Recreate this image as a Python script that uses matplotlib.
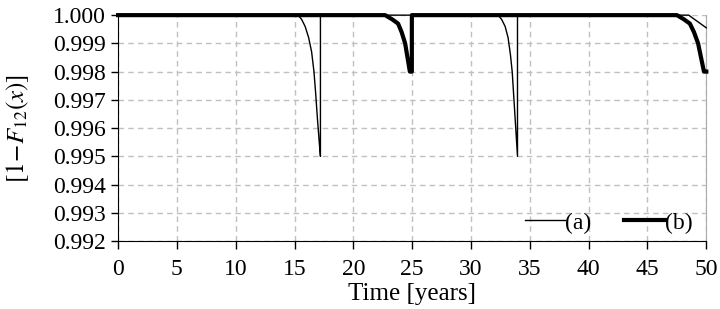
import matplotlib.pyplot as plt

plt.rcParams['font.family'] = ['Liberation Serif', 'DejaVu Serif']
plt.rcParams['mathtext.fontset'] = 'stix'

# series (a): thin line, dips at ~17 and ~34 years, starting again near 50
t_a = [0, 15.3, 15.6, 15.9, 16.2, 16.45, 16.65, 16.8, 16.95, 17.1, 17.2, 17.2,
       32.3, 32.6, 32.9, 33.15, 33.35, 33.5, 33.65, 33.8, 33.95, 33.95,
       48.5, 49.0, 49.5, 50.0]
r_a = [1.0, 1.0, 0.99985, 0.9996, 0.9992, 0.9987, 0.998, 0.9972, 0.9963, 0.9955, 0.995, 1.0,
       1.0, 0.99985, 0.9996, 0.9992, 0.9986, 0.998, 0.997, 0.996, 0.995, 1.0,
       1.0, 0.99985, 0.9997, 0.99955]

# series (b): thick line, dips at 25 and 50 years
t_b = [0, 22.7, 23.3, 23.8, 24.1, 24.4, 24.6, 24.8, 24.97, 24.97,
       47.5, 48.1, 48.6, 48.95, 49.3, 49.55, 49.8, 50.0]
r_b = [1.0, 1.0, 0.99985, 0.9997, 0.9994, 0.999, 0.9985, 0.998, 0.998, 1.0,
       1.0, 0.99985, 0.9997, 0.9994, 0.999, 0.9985, 0.998, 0.998]

x_ticks = list(range(0, 51, 5))
y_ticks = [0.992, 0.993, 0.994, 0.995, 0.996, 0.997, 0.998, 0.999, 1.000]

fig = plt.figure(figsize=(7.2, 3.09), dpi=100)
ax = fig.add_axes([0.164, 0.22, 0.817, 0.731])

ax.plot(t_a, r_a, color='black', linewidth=1.0, label='(a)', clip_on=False, zorder=3)
ax.plot(t_b, r_b, color='black', linewidth=3.0, label='(b)', clip_on=False, zorder=3)

ax.set_xlim(0, 50)
ax.set_ylim(0.992, 1.000)
ax.set_xticks(x_ticks)
ax.set_yticks(y_ticks)
ax.set_yticklabels([f'{v:.3f}' for v in y_ticks])
ax.tick_params(labelsize=17, direction='out', length=5, width=1, colors='black')
ax.tick_params(axis='x', length=6, pad=7)

ax.grid(True, color='#c0c0c0', linestyle=(0, (4, 3)), linewidth=1)
ax.spines['top'].set_visible(False)
ax.spines['right'].set_color('#aaaaaa')

ax.set_xlabel('Time [years]', fontsize=18, labelpad=2)
ax.set_ylabel(r'$[1\!-\!F_{12}(x)]$', fontsize=18, labelpad=16)

ax.legend(loc='lower right', ncol=2, frameon=False, fontsize=17,
          handlelength=1.7, handletextpad=0.0, columnspacing=1.4,
          borderaxespad=0.2, bbox_to_anchor=(1.0, -0.03))

plt.savefig('out.png', dpi=100)
